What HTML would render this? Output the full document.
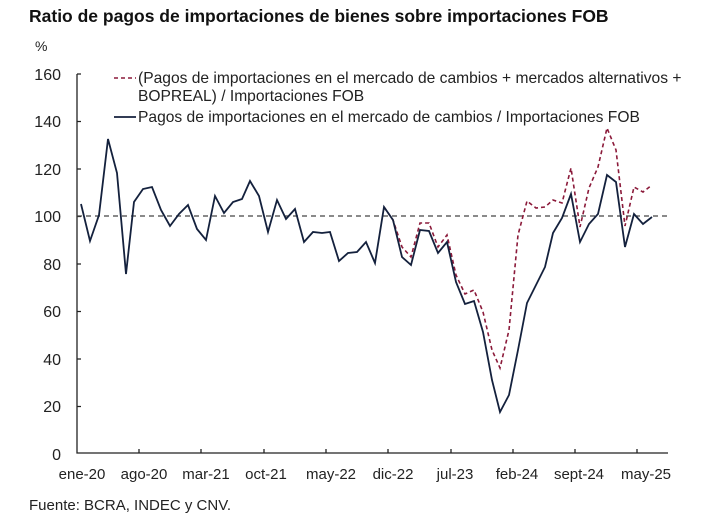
<!DOCTYPE html>
<html><head><meta charset="utf-8"><style>
body{margin:0;background:#fff;width:714px;height:522px;overflow:hidden;font-family:"Liberation Sans",sans-serif;}
</style></head><body>
<svg width="714" height="522" viewBox="0 0 714 522" xmlns="http://www.w3.org/2000/svg" font-family="Liberation Sans, sans-serif">
<text x="29" y="22" font-size="17.5" font-weight="bold" fill="#111">Ratio de pagos de importaciones de bienes sobre importaciones FOB</text>
<text x="35" y="51" font-size="14" fill="#222">%</text>
<g font-size="16" fill="#222" text-anchor="end">
<text x="61" y="80">160</text><text x="61" y="127">140</text><text x="61" y="175">120</text><text x="61" y="222">100</text><text x="61" y="270">80</text><text x="61" y="317">60</text><text x="61" y="365">40</text><text x="61" y="412">20</text><text x="61" y="460">0</text>
</g>
<g stroke="#222" stroke-width="1.3" fill="none">
<path d="M77,74 V453 H668"/>
<path d="M77,74h4M77,121.5h4M77,169h4M77,216.5h4M77,264h4M77,311.5h4M77,359h4M77,406.5h4"/>
<path d="M139,453v-4M201,453v-4M264,453v-4M326,453v-4M388,453v-4M451,453v-4M513,453v-4M575,453v-4M637,453v-4"/>
</g>
<g font-size="15" fill="#222" text-anchor="middle">
<text x="82" y="479">ene-20</text><text x="144" y="479">ago-20</text><text x="206" y="479">mar-21</text><text x="266" y="479">oct-21</text><text x="331" y="479">may-22</text><text x="393" y="479">dic-22</text><text x="455" y="479">jul-23</text><text x="517" y="479">feb-24</text><text x="579" y="479">sept-24</text><text x="646" y="479">may-25</text>
</g>
<text x="29" y="510" font-size="15" fill="#222">Fuente: BCRA, INDEC y CNV.</text>
<line x1="77" y1="216" x2="668" y2="216" stroke="#444" stroke-width="1.2" stroke-dasharray="5,4"/>
<polyline fill="none" stroke="#8b1a3a" stroke-width="1.6" stroke-dasharray="4,3" points="384,207 393,220 402,247 411,257 420,223 429,223 438,247 447,235 456,275 465,294 474,290 483,312 492,350 500,368 509,330 518,235 527,201 536,208 545,207 553,200 562,203 571,168 580,227 589,188 598,167 607,128 616,150 625,226 634,187 643,192 652,185"/>
<polyline fill="none" stroke="#14213d" stroke-width="1.8" points="81,204 90,241 99,215 108,139 117,173 126,274 134,202 143,189 152,187 161,210 170,226 179,214 188,205 197,229 206,240 215,196 224,213 233,202 242,199 250,181 259,196 268,232 277,200 286,219 295,209 304,242 313,232 322,233 330,232 339,261 348,253 357,252 366,242 375,263 384,207 393,220 402,257 411,265 420,230 429,231 438,253 447,242 456,282 465,304 474,301 483,332 492,380 500,412 509,395 518,350 527,303 536,285 545,267 553,233 562,218 571,194 580,242 589,224 598,214 607,175 616,182 625,247 634,214 643,224 652,217"/>
<line x1="114" y1="78" x2="136" y2="78" stroke="#8b1a3a" stroke-width="1.6" stroke-dasharray="4,3"/>
<line x1="114" y1="117" x2="136" y2="117" stroke="#14213d" stroke-width="1.8"/>
<g font-size="15.6" fill="#222">
<text x="138" y="83">(Pagos de importaciones en el mercado de cambios + mercados alternativos +</text>
<text x="138" y="101">BOPREAL) / Importaciones FOB</text>
<text x="138" y="122">Pagos de importaciones en el mercado de cambios / Importaciones FOB</text>
</g>
</svg>
</body></html>
